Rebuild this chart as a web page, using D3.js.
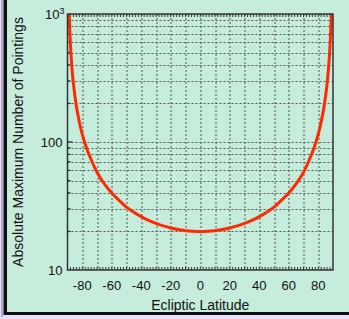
<!DOCTYPE html>
<html>
<head>
<meta charset="utf-8">
<script src="https://cdn.jsdelivr.net/npm/d3@7"></script>
<style>
  body { margin: 0; background: #e9e1f7; }
  svg { display: block; }
</style>
</head>
<body>
<div id="my_dataviz"></div>
<script>
// latitude (deg) and the maximum number of pointings
var latitudes = [-88.9, -88, -87, -86, -85, -84, -82, -80, -77, -74, -70, -65, -60, -55, -50, -45, -40, -35, -30, -25, -20, -15, -10, -5,
  0, 5, 10, 15, 20, 25, 30, 35, 40, 45, 50, 55, 60, 65, 70, 74, 77, 80, 82, 84, 85, 86, 87, 88, 88.9];
var pointings = [1000, 570, 380, 287, 230, 191, 144, 115, 89, 73, 58, 47, 40, 35, 31, 28.3, 26.1, 24.4, 23.1, 22.1, 21.3, 20.7, 20.3, 20.1,
  20, 20.1, 20.3, 20.7, 21.3, 22.1, 23.1, 24.4, 26.1, 28.3, 31, 35, 40, 47, 58, 73, 89, 115, 144, 191, 230, 287, 380, 570, 1000];
var xTicks = [-80, -60, -40, -20, 0, 20, 40, 60, 80];
var yTicks = [10, 100, 1000];

var W = 349, H = 319;
var margin = { top: 14, right: 16, bottom: 49, left: 67.5 },
  width = W - margin.left - margin.right,
  height = H - margin.top - margin.bottom;

var root = d3.select("#my_dataviz")
  .append("svg")
  .attr("width", W)
  .attr("height", H);

// mint panel with the dark frame on the left and bottom
root.append("rect")
  .attr("x", 0).attr("y", 0).attr("width", 3).attr("height", 316)
  .style("fill", "#e9e1f7");
root.append("line")
  .attr("x1", 2).attr("y1", 0).attr("x2", 2).attr("y2", 317)
  .style("stroke", "#7a7090").style("stroke-width", 1);
root.append("rect")
  .attr("x", 3.5).attr("y", -5).attr("width", W).attr("height", 320)
  .style("fill", "#111");
root.append("rect")
  .attr("x", 7).attr("y", -5).attr("width", W).attr("height", 317)
  .style("fill", "#c6ecdc");

var svg = root.append("g")
  .attr("transform", "translate(" + margin.left + "," + margin.top + ")");

var x = d3.scaleLinear().domain([-90, 90]).range([0, width]);
var y = d3.scaleLog().domain([10, 1000]).range([height, 0]);

// grid lines
var minorY = [];
[10, 100].forEach(function (d) {
  for (var i = 2; i <= 9; i++) minorY.push(d * i);
});
minorY.push(100);
var gridX = d3.range(-80, 81, 10);

svg.append("g").selectAll("line.gy")
  .data(minorY)
  .enter().append("line")
  .attr("x1", 0).attr("x2", width)
  .attr("y1", function (d) { return Math.round(y(d)) + 0.5; })
  .attr("y2", function (d) { return Math.round(y(d)) + 0.5; })
  .style("stroke", "#555").style("stroke-width", 1)
  .style("stroke-dasharray", "2,2");

svg.append("g").selectAll("line.gx")
  .data(gridX)
  .enter().append("line")
  .attr("y1", 0).attr("y2", height)
  .attr("x1", function (d) { return Math.round(x(d)) + 0.5; })
  .attr("x2", function (d) { return Math.round(x(d)) + 0.5; })
  .style("stroke", "#555").style("stroke-width", 1)
  .style("stroke-dasharray", "2,2");

// small ticks along the top and bottom every 2 degrees
var tiny = d3.range(-88, 89, 2);
svg.append("g").selectAll("line.tb")
  .data(tiny)
  .enter().append("line")
  .attr("x1", function (d) { return x(d); })
  .attr("x2", function (d) { return x(d); })
  .attr("y1", height).attr("y2", height - 3)
  .style("stroke", "#333").style("stroke-width", 1);
svg.append("g").selectAll("line.tt")
  .data(tiny)
  .enter().append("line")
  .attr("x1", function (d) { return x(d); })
  .attr("x2", function (d) { return x(d); })
  .attr("y1", 0).attr("y2", 3)
  .style("stroke", "#333").style("stroke-width", 1);

// ticks on the left edge
svg.append("g").selectAll("line.tl")
  .data(minorY)
  .enter().append("line")
  .attr("x1", 0).attr("x2", function (d) { return d === 100 ? 5 : 3; })
  .attr("y1", function (d) { return y(d); })
  .attr("y2", function (d) { return y(d); })
  .style("stroke", "#222").style("stroke-width", 1.2);

// the curve
var pts = latitudes.map(function (d, i) { return { lat: d, n: pointings[i] }; });
svg.append("path")
  .datum(pts)
  .attr("d", d3.line()
    .curve(d3.curveMonotoneX)
    .x(function (d) { return x(d.lat); })
    .y(function (d) { return y(d.n); }))
  .style("fill", "none")
  .style("stroke", "#ff2a00")
  .style("stroke-width", 3);

// frame
svg.append("rect")
  .attr("x", 0).attr("y", 0).attr("width", width).attr("height", height)
  .style("fill", "none").style("stroke", "#333").style("stroke-width", 1.5);

// x labels
svg.append("g").selectAll("text.xl")
  .data(xTicks)
  .enter().append("text")
  .attr("x", function (d) { return x(d); })
  .attr("y", height + 20)
  .attr("text-anchor", "middle")
  .style("font-family", "Liberation Sans, Arial, sans-serif")
  .style("font-size", "13px")
  .style("fill", "#111")
  .text(function (d) { return d; });

// y labels
var yl = svg.append("g").selectAll("text.yl")
  .data(yTicks)
  .enter().append("text")
  .attr("x", -5)
  .attr("y", function (d) { return y(d) + 5; })
  .attr("text-anchor", "end")
  .style("font-family", "Liberation Sans, Arial, sans-serif")
  .style("font-size", "13px")
  .style("fill", "#111");
yl.each(function (d) {
  var t = d3.select(this);
  if (d === 1000) {
    t.append("tspan").text("10");
    t.append("tspan").attr("dy", -5).style("font-size", "9px").text("3");
    t.attr("x", -3);
  } else {
    t.text(d);
  }
});

// axis titles
svg.append("text")
  .attr("x", x(0))
  .attr("y", height + 40)
  .attr("text-anchor", "middle")
  .style("font-family", "Liberation Sans, Arial, sans-serif")
  .style("font-size", "14px")
  .style("fill", "#111")
  .text("Ecliptic Latitude");

svg.append("text")
  .attr("transform", "translate(" + (-45) + "," + (height / 2) + ") rotate(-90)")
  .attr("text-anchor", "middle")
  .style("font-family", "Liberation Sans, Arial, sans-serif")
  .style("font-size", "14px")
  .style("fill", "#111")
  .text("Absolute Maximum Number of Pointings");
</script>
</body>
</html>
